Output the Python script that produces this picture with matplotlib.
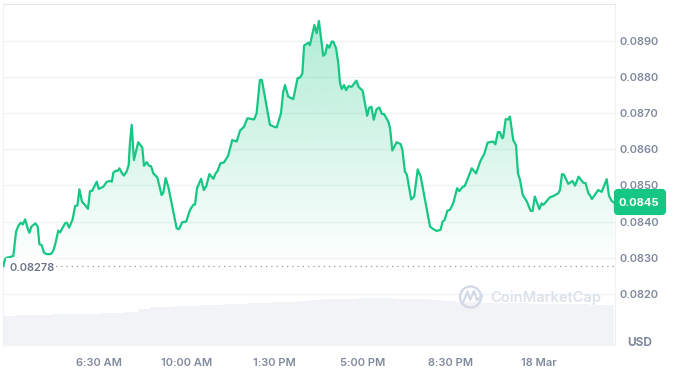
import matplotlib
matplotlib.use('Agg')
import matplotlib.pyplot as plt
import numpy as np
from matplotlib.patches import Circle, FancyBboxPatch, Rectangle
from matplotlib.transforms import Affine2D

# hours since midnight of the 17th
times = [2.71, 2.78, 2.85, 2.98, 3.11, 3.22, 3.31, 3.41, 3.49, 3.58, 3.67, 3.75, 3.83, 3.99, 4.08, 4.15, 4.24, 4.33,
         4.44, 4.60, 4.70, 4.78, 4.90, 4.97, 5.17, 5.24, 5.33, 5.47, 5.57, 5.66, 5.74, 5.84, 5.96, 6.08, 6.16, 6.25,
         6.43, 6.51, 6.69, 6.83, 6.96, 7.03, 7.09, 7.18, 7.26, 7.33, 7.42, 7.51, 7.62, 7.70, 7.75, 7.82, 7.91, 8.08,
         8.24, 8.31, 8.42, 8.51, 8.59, 8.68, 8.84, 9.01, 9.08, 9.17, 9.28, 9.61, 9.70, 9.83, 9.99, 10.14, 10.27, 10.34,
         10.42, 10.58, 10.69, 10.79, 10.91, 11.07, 11.16, 11.24, 11.35, 11.49, 11.66, 11.82, 12.00, 12.13, 12.29, 12.42,
         12.53, 12.69, 12.79, 12.92, 13.00, 13.32, 13.48, 13.59, 13.76, 13.85, 13.92, 14.05, 14.25, 14.42, 14.52, 14.61,
         14.68, 14.85, 14.91, 15.09, 15.18, 15.27, 15.44, 15.52, 15.60, 15.68, 15.78, 15.84, 15.95, 16.04, 16.11, 16.18,
         16.27, 16.35, 16.45, 16.57, 16.76, 16.85, 17.01, 17.10, 17.19, 17.27, 17.36, 17.45, 17.56, 17.67, 17.78, 17.86,
         18.03, 18.10, 18.19, 18.36, 18.52, 18.59, 18.69, 18.77, 18.94, 19.06, 19.20, 19.32, 19.69, 19.82, 19.95, 20.11,
         20.19, 20.27, 20.38, 20.48, 20.61, 20.77, 20.85, 20.99, 21.07, 21.17, 21.35, 21.52, 21.70, 21.85, 21.98, 22.21,
         22.29, 22.39, 22.47, 22.56, 22.60, 22.70, 22.80, 22.87, 23.00, 23.11, 23.19, 23.27, 23.38, 23.53, 23.69, 23.77,
         23.86, 24.04, 24.13, 24.20, 24.46, 24.59, 24.79, 24.86, 24.94, 25.02, 25.19, 25.36, 25.46, 25.60, 25.79, 25.88,
         25.99, 26.05, 26.13, 26.38, 26.52, 26.72, 26.81, 26.92, 27.01]

prices = [0.08277, 0.08296, 0.08300, 0.08302, 0.08305, 0.08372, 0.08388, 0.08397, 0.08392, 0.08406, 0.08384, 0.08369,
          0.08386, 0.08395, 0.08386, 0.08337, 0.08335, 0.08314, 0.08310, 0.08310, 0.08319, 0.08338, 0.08375, 0.08370,
          0.08395, 0.08397, 0.08383, 0.08406, 0.08443, 0.08444, 0.08489, 0.08455, 0.08446, 0.08435, 0.08484, 0.08485,
          0.08510, 0.08490, 0.08496, 0.08510, 0.08512, 0.08510, 0.08535, 0.08540, 0.08540, 0.08547, 0.08535, 0.08527,
          0.08538, 0.08556, 0.08616, 0.08667, 0.08570, 0.08619, 0.08605, 0.08554, 0.08564, 0.08554, 0.08553, 0.08533,
          0.08522, 0.08473, 0.08480, 0.08520, 0.08495, 0.08381, 0.08379, 0.08398, 0.08400, 0.08432, 0.08446, 0.08447,
          0.08492, 0.08518, 0.08487, 0.08498, 0.08531, 0.08518, 0.08533, 0.08540, 0.08561, 0.08563, 0.08582, 0.08625,
          0.08621, 0.08651, 0.08662, 0.08685, 0.08684, 0.08682, 0.08699, 0.08791, 0.08791, 0.08667, 0.08662, 0.08660,
          0.08699, 0.08759, 0.08777, 0.08745, 0.08738, 0.08796, 0.08798, 0.08809, 0.08886, 0.08894, 0.08887, 0.08943,
          0.08920, 0.08954, 0.08858, 0.08863, 0.08888, 0.08880, 0.08897, 0.08897, 0.08879, 0.08837, 0.08782, 0.08766,
          0.08777, 0.08763, 0.08774, 0.08772, 0.08789, 0.08772, 0.08761, 0.08727, 0.08692, 0.08714, 0.08717, 0.08681,
          0.08710, 0.08715, 0.08697, 0.08697, 0.08676, 0.08658, 0.08596, 0.08619, 0.08614, 0.08598, 0.08538, 0.08529,
          0.08461, 0.08469, 0.08544, 0.08524, 0.08386, 0.08379, 0.08374, 0.08377, 0.08400, 0.08404, 0.08430, 0.08432,
          0.08450, 0.08492, 0.08484, 0.08496, 0.08498, 0.08515, 0.08547, 0.08533, 0.08568, 0.08587, 0.08618, 0.08621,
          0.08613, 0.08647, 0.08647, 0.08630, 0.08632, 0.08683, 0.08682, 0.08690, 0.08625, 0.08611, 0.08533, 0.08515,
          0.08473, 0.08457, 0.08430, 0.08429, 0.08469, 0.08434, 0.08450, 0.08446, 0.08467, 0.08470, 0.08478, 0.08487,
          0.08531, 0.08529, 0.08504, 0.08512, 0.08499, 0.08524, 0.08507, 0.08506, 0.08478, 0.08473, 0.08462, 0.08487,
          0.08482, 0.08517, 0.08471, 0.08457, 0.08452]

# volume bars, arbitrary units, one every half hour or so
volumes = [30, 31, 31.5, 31.5, 32, 32, 32, 32.5, 33, 33.5, 34, 37, 39, 39.5, 40, 40, 41, 41.5, 42, 42.5, 43, 43.5, 44,
           44.5, 45, 46, 47, 47.5, 47.5, 48, 48.5, 48, 47.5, 47.5, 47, 46, 45, 44.5, 44, 43.5, 43.5, 43, 43, 42.5, 42,
           42, 42, 42, 41.5, 41]

base_price = 0.08278
last_price = "0.0845"
y_ticks = [0.082, 0.083, 0.084, 0.085, 0.086, 0.087, 0.088, 0.089]
x_ticks = [6.5, 10, 13.5, 17, 20.5, 24]
x_labels = ['6:30 AM', '10:00 AM', '1:30 PM', '5:00 PM', '8:30 PM', '18 Mar']

GREEN = '#16c784'
GREY = '#808a9d'
FONT = 'Inter'
T0, T1 = 2.70, 27.03
P0, P1 = 0.080562, 0.090022

fig = plt.figure(figsize=(6.78, 3.73), dpi=100)
fig.patch.set_facecolor('white')
ax = fig.add_axes([3 / 678, 27 / 373, 611.5 / 678, 342.5 / 373])
# pixel coordinates, y going down, for the overlay bits
px = Affine2D().scale(1, -1).translate(0, 373)

# volume goes on its own axis underneath
ax_vol = ax.twinx()
ax_vol.set_zorder(0)
ax.set_zorder(1)
ax.patch.set_visible(False)
vol_x = T0 + (np.arange(len(volumes)) + 0.5) * (T1 - T0) / len(volumes)
ax_vol.bar(vol_x, volumes, width=(T1 - T0) / len(volumes), color='#f1f3f6', lw=0)
ax_vol.set_ylim(0, 342.5)
ax_vol.axis('off')

ax.set_xlim(T0, T1)
ax.set_ylim(P0, P1)

# gradient under the line, fades out at the base price
grad = np.zeros((256, 1, 4))
grad[:, 0, :3] = matplotlib.colors.to_rgb(GREEN)
grad[:, 0, 3] = np.linspace(0.34, 0, 256)
poly = ax.fill_between(times, prices, base_price, color='none', lw=0)
im = ax.imshow(grad, extent=[T0, T1, base_price, 0.0895], origin='upper', aspect='auto', zorder=1)
im.set_clip_path(poly.get_paths()[0], transform=ax.transData)
ax.set_xlim(T0, T1)
ax.set_ylim(P0, P1)

ax.plot(times, prices, color=GREEN, lw=1.6, solid_joinstyle='round', zorder=3)
ax.axhline(base_price, color='#8f98a8', lw=0.9, ls=(0, (1, 3.2)), zorder=2)

ax.set_yticks(y_ticks)
ax.set_yticklabels([f'{v:.4f}' for v in y_ticks])
ax.set_xticks(x_ticks)
ax.set_xticklabels(x_labels)
ax.yaxis.tick_right()
ax.tick_params(axis='y', length=0, pad=3.5, labelsize=8, labelcolor=GREY)
ax.tick_params(axis='x', length=0, pad=8.5, labelsize=8, labelcolor=GREY)
for lab in ax.get_xticklabels() + ax.get_yticklabels():
    lab.set_family(FONT)
    lab.set_fontweight('semibold')
ax.yaxis.grid(True, color='#eff2f5', lw=0.9)
ax.set_axisbelow(True)

ax.spines['bottom'].set_visible(False)
ax.spines['top'].set_color('#e3e6ea')
ax.spines['left'].set_color('#eff2f5')
ax.spines['right'].set_color('#eff2f5')

# base price label sits on a white box
ax.add_patch(Rectangle((6, 258), 50, 20, transform=px, fc='white', ec='none', zorder=4, clip_on=False))
ax.text(9, 268, f'{base_price:.5f}', transform=px, color='#6b7488', fontsize=8, fontweight='semibold',
        family=FONT, va='center', ha='left', zorder=5)

# last price badge
ax.add_patch(FancyBboxPatch((616, 191), 48, 22, boxstyle='round,pad=0,rounding_size=2', mutation_aspect=1,
                            transform=px, fc=GREEN, ec=GREEN, lw=3, zorder=6, clip_on=False))
ax.text(639, 202.5, last_price, transform=px, color='white', fontsize=8, fontweight='bold', family=FONT,
        va='center', ha='center', zorder=7)

ax.text(639.5, 343, 'USD', transform=px, color=GREY, fontsize=8.5, fontweight='bold', family=FONT,
        va='center', ha='center', zorder=7)

# watermark
mark = '#d3d9e5'
ax.add_patch(Circle((470.5, 297), 10.5, transform=px, fc='none', ec=mark, lw=1.7, zorder=4, clip_on=False))
ax.plot([463, 467.5, 470, 474, 477, 482], [303, 291.5, 300, 291, 300, 296], transform=px, color=mark, lw=1.6,
        zorder=4, clip_on=False)
ax.text(490, 298, 'CoinMarketCap', transform=px, color='#dde1ea', fontsize=10.6, fontweight='semibold',
        family=FONT, va='center', ha='left', zorder=4)

plt.savefig('out.png', dpi=100, facecolor='white')
plt.close(fig)
